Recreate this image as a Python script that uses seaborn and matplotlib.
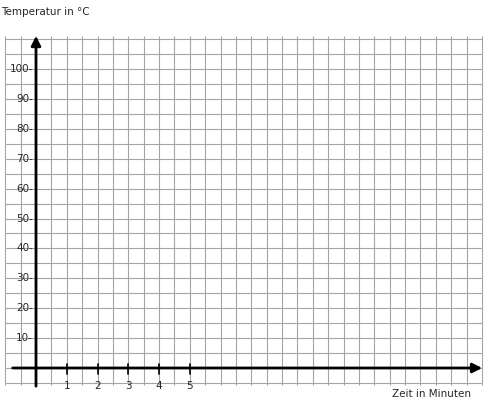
import numpy as np
import seaborn as sns
import matplotlib.pyplot as plt

sns.set_style("white")
plt.rcParams['font.family'] = ['DejaVu Sans']

x_ticks = [1, 2, 3, 4, 5]
y_ticks = [10, 20, 30, 40, 50, 60, 70, 80, 90, 100]
x_label = "Zeit in Minuten"
y_label = "Temperatur in °C"

fig = plt.figure(figsize=(4.88, 4.0), dpi=100)
ax = fig.add_axes([0, 0, 1, 1])
ax.set_xlim(-36 / 30.75, (488 - 36) / 30.75)
ax.set_ylim(-32 / 2.99, 368 / 2.99)
ax.axis("off")

# grid paper
gx = np.arange(-1.0, 14.51, 0.5)
gy = np.arange(-5, 111, 5)
ax.vlines(gx, -5.7, 111, color="#a5a5a5", lw=0.8, zorder=1)
ax.hlines(gy, -1.0, 14.5, color="#a5a5a5", lw=0.8, zorder=1)

# axes with arrows
ax.annotate("", xy=(14.6, 0), xytext=(-0.85, 0), annotation_clip=False,
            arrowprops=dict(arrowstyle="-|>", lw=2, color="black", mutation_scale=14))
ax.annotate("", xy=(0, 112), xytext=(0, -7), annotation_clip=False,
            arrowprops=dict(arrowstyle="-|>", lw=2, color="black", mutation_scale=14))

for t in x_ticks:
    ax.plot([t, t], [-2, 1.2], color="black", lw=1.2)
    ax.text(t, -4.5, str(t), ha="center", va="top", fontsize=7.5)
for t in y_ticks:
    ax.text(-0.1, t, f"{t}-", ha="right", va="center", fontsize=7.5)

ax.text(-1.12, 119, y_label, ha="left", va="center", fontsize=7.5)
ax.text(12.85, -8.8, x_label, ha="center", va="center", fontsize=7.5)

fig.savefig("out.png", dpi=100)
